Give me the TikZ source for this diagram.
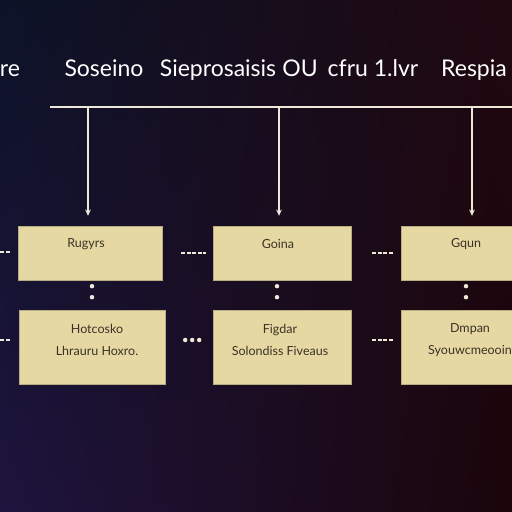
\documentclass[tikz,border=0pt]{standalone}
\usepackage{fontspec}
\setmainfont{Lato}
\usetikzlibrary{arrows.meta,positioning,calc,shadings}
\definecolor{bgnw}{RGB}{12,19,40}
\definecolor{bgne}{RGB}{32,8,16}
\definecolor{bgsw}{RGB}{30,20,62}
\definecolor{bgse}{RGB}{26,5,10}
\definecolor{card}{RGB}{230,216,162}
\definecolor{ink}{RGB}{58,50,38}
\definecolor{wire}{RGB}{238,232,216}
\tikzset{
  card/.style={draw=card!80!black, fill=card, minimum height=#1, inner sep=0pt},
  cardtxt/.style={font=\fontsize{12.5}{16}\selectfont, text=ink, align=center},
  ttl/.style={font=\fontsize{23}{26}\selectfont, text=white, anchor=base},
  bus/.style={draw=wire, line width=2.4pt},
  drop/.style={draw=wire, line width=2pt, -{Stealth[length=2.2mm,width=2mm]}},
  dashlink/.style={draw=wire, line width=2.6pt, dash pattern=on 4pt off 1.5pt},
  dotlink/.style={draw=wire, line width=4.5pt, line cap=round, dash pattern=on 0pt off 8pt},
}
\begin{document}
\begin{tikzpicture}[x=1pt,y=-1pt]
  \useasboundingbox (0,0) rectangle (512,512);
  \clip (0,0) rectangle (512,512);
  % background
  \shade[upper left=bgnw, upper right=bgne, lower left=bgsw, lower right=bgse]
    (0,0) rectangle (512,512);
  % title
  \node[ttl] (t0) at (10,76) {re};
  \node[ttl] (t1) at (104,76) {Soseino};
  \node[ttl] (t2) at (218,76) {Sieprosaisis};
  \node[ttl] (t3) at (300,76) {OU};
  \node[ttl] (t4) at (373,76) {cfru 1.lvr};
  \node[ttl] (t5) at (474,76) {Respia};
  % bus
  \coordinate (busl) at (50,107);
  \coordinate (busr) at (514,107);
  \draw[bus] (busl) -- (busr);
  % boxes
  \node[card=54pt, minimum width=144pt] (b11) at (90,253) {};
  \node[card=54pt, minimum width=138pt] (b12) at (282,253) {};
  \node[card=54pt, minimum width=124pt] (b13) at (463,253) {};
  \node[card=74pt, minimum width=146pt] (b21) at (92,347) {};
  \node[card=74pt, minimum width=138pt] (b22) at (282,347) {};
  \node[card=74pt, minimum width=124pt] (b23) at (463,347) {};
  % labels
  \node[cardtxt] (l11) at (86,244) {Rugyrs};
  \node[cardtxt] (l12) at (278,244) {Goina};
  \node[cardtxt] (l13) at (466,244) {Gqun};
  \node[cardtxt] (l21) at (97,340) {Hotcosko\\[6pt]Lhrauru Hoxro.};
  \node[cardtxt] (l22) at (280,340) {Figdar\\[6pt]Solondiss Fiveaus};
  \node[cardtxt] (l23) at (470,340) {Dmpan\\[6pt]Syouwcmeooin};
  % drops from the bus
  \foreach \x/\b in {88/b11, 279/b12, 472/b13}{
    \coordinate (d\b) at (\x,107);
    \draw[drop, shorten >=10pt] (d\b) -- (d\b |- \b.north);
  }
  % links along the rows
  \coordinate (in1) at (0,252);
  \coordinate (in2) at (0,340);
  \draw[dashlink, shorten >=8pt] (in1) -- (b11.west |- in1);
  \draw[dashlink, shorten <=19pt, shorten >=7pt] (b11) -- (b12);
  \draw[dashlink, shorten <=21pt, shorten >=7pt] (b12) -- (b13);
  \draw[dashlink, shorten >=9pt] (in2) -- (b21.west |- in2);
  \draw[dotlink, dash pattern=on 0pt off 7pt, shorten <=20pt, shorten >=9pt] (b21.east |- in2) -- (b22.west |- in2);
  \draw[dashlink, shorten <=21pt, shorten >=7pt] (b22.east |- in2) -- (b23.west |- in2);
  % links between the rows
  \foreach \x/\i in {92/1, 277/2, 466/3}{
    \coordinate (v\i) at (\x,0);
    \draw[dotlink, dash pattern=on 0pt off 11pt, shorten <=6pt, shorten >=12pt] (v\i |- b1\i.south) -- (v\i |- b2\i.north);
  }
\end{tikzpicture}
\end{document}
